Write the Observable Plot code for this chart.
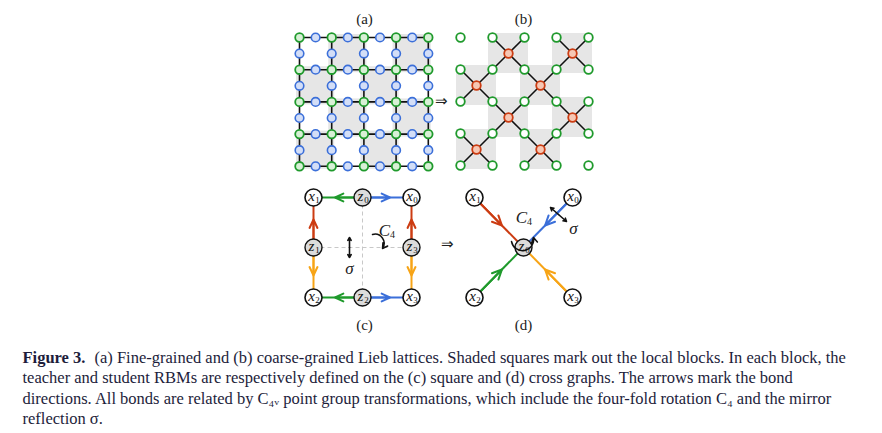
<!DOCTYPE html>
<html><head><meta charset="utf-8">
<script src="https://cdn.jsdelivr.net/npm/d3@7"></script>
<script src="https://cdn.jsdelivr.net/npm/@observablehq/plot@0.6"></script>
<style>body{margin:0;background:#fff}</style>
</head><body><div id="chart"></div>
<script>
// lattice indices 0..8 in both directions
const idx = [0,1,2,3,4,5,6,7,8]
const blocks = [0,1,2,3]
// panel origins and spacing (pixels)
const panelA = {x: 299, y: 37, s: 16.1}
const panelB = {x: 460, y: 37, s: 16}
const panelLabels = [{t:'(a)', x:364, y:19}, {t:'(b)', x:523, y:19}, {t:'(c)', x:364, y:325}, {t:'(d)', x:523, y:325}]
// graph nodes for (c) and (d)
const nodesC = [
  {n:'x', s:'1', x:313, y:197, z:false}, {n:'z', s:'0', x:362, y:197, z:true}, {n:'x', s:'0', x:411, y:197, z:false},
  {n:'z', s:'1', x:313, y:247, z:true}, {n:'z', s:'3', x:411, y:247, z:true},
  {n:'x', s:'2', x:313, y:297, z:false}, {n:'z', s:'2', x:362, y:297, z:true}, {n:'x', s:'3', x:411, y:297, z:false}
]
const nodesD = [
  {n:'x', s:'1', x:474, y:197, z:false}, {n:'x', s:'0', x:572, y:197, z:false},
  {n:'z', s:'0', x:523, y:247, z:true},
  {n:'x', s:'2', x:474, y:297, z:false}, {n:'x', s:'3', x:572, y:297, z:false}
]
const green = '#1f9a2c', blue = '#3b6fd9', red = '#cc3c12', orange = '#f7a416'
// bonds: from -> to, colour (panel key c/d)
const bondsC = [['z0','x1',green],['z0','x0',blue],['z1','x1',red],['z1','x2',orange],
                ['z3','x0',red],['z3','x3',orange],['z2','x2',green],['z2','x3',blue]]
const bondsD = [['x1','z0',red],['x0','z0',blue],['x2','z0',green],['x3','z0',orange]]
const caption = [
  'teacher and student RBMs are respectively defined on the (c) square and (d) cross graphs. The arrows mark the bond',
  'directions. All bonds are related by C₄ᵥ point group transformations, which include the four-fold rotation C₄ and the mirror',
  'reflection σ.'
]
const captionFirst = '(a) Fine-grained and (b) coarse-grained Lieb lattices. Shaded squares mark out the local blocks. In each block, the'

const P = (p, i, j) => ({x: p.x + i*p.s, y: p.y + j*p.s})

const shadeA = [], shadeB = [], redB = []
for (const bi of blocks) for (const bj of blocks) if ((bi+bj)%2 === 1) {
  const a = P(panelA, 2*bi, 2*bj), b = P(panelB, 2*bi, 2*bj)
  shadeA.push({x1:a.x-3, y1:a.y-3, x2:a.x+2*panelA.s+3, y2:a.y+2*panelA.s+3})
  shadeB.push({x1:b.x-4, y1:b.y-4, x2:b.x+2*panelB.s+4, y2:b.y+2*panelB.s+4})
  redB.push({bi, bj, ...P(panelB, 2*bi+1, 2*bj+1)})
}
const linesA = []
for (const k of [0,2,4,6,8]) {
  const a0 = P(panelA, 0, k), a1 = P(panelA, 8, k), b0 = P(panelA, k, 0), b1 = P(panelA, k, 8)
  linesA.push({x1:a0.x, y1:a0.y, x2:a1.x, y2:a1.y}, {x1:b0.x, y1:b0.y, x2:b1.x, y2:b1.y})
}
const greenA = [], blueA = [], greenB = []
for (const i of idx) for (const j of idx) {
  if (i%2===0 && j%2===0) { greenA.push(P(panelA,i,j)); greenB.push(P(panelB,i,j)) }
  else if (i%2===0 || j%2===0) blueA.push(P(panelA,i,j))
}
const linesB = []
for (const r of redB) for (const [di,dj] of [[0,0],[2,0],[0,2],[2,2]]) {
  const c = P(panelB, 2*r.bi+di, 2*r.bj+dj)
  linesB.push({x1:r.x, y1:r.y, x2:c.x, y2:c.y})
}
function bonds(list, nodes) {
  const m = new Map(nodes.map(d => [d.n + d.s, d]))
  return list.map(([f,t,c]) => {
    const a = m.get(f), b = m.get(t)
    return {x1:a.x, y1:a.y, x2:b.x, y2:b.y, mx:(a.x+b.x)/2 + (b.x-a.x)*0.06, my:(a.y+b.y)/2 + (b.y-a.y)*0.06, c}
  })
}
const allBonds = bonds(bondsC, nodesC).concat(bonds(bondsD, nodesD))
const allNodes = nodesC.concat(nodesD)
const dashC = [{x1:362,y1:197,x2:362,y2:297},{x1:313,y1:247,x2:411,y2:247}]
const mathLabels = [{t:'C', s:'4', x:384, y:230}, {t:'C', s:'4', x:521, y:217}]

const ink = '#1d1d3b'
const chart = Plot.plot({
  width: 882, height: 433, margin: 0,
  x: {domain:[0,882], axis:null}, y: {domain:[433,0], axis:null},
  style: {fontFamily: '"Liberation Serif", serif'},
  marks: [
    Plot.rect(shadeA, {x1:'x1', x2:'x2', y1:'y1', y2:'y2', fill:'#e6e6e6'}),
    Plot.rect(shadeB, {x1:'x1', x2:'x2', y1:'y1', y2:'y2', fill:'#e6e6e6'}),
    Plot.link(linesA, {x1:'x1', y1:'y1', x2:'x2', y2:'y2', stroke:'#111', strokeWidth:1.6}),
    Plot.link(linesB, {x1:'x1', y1:'y1', x2:'x2', y2:'y2', stroke:'#111', strokeWidth:1.6}),
    Plot.dot(blueA, {x:'x', y:'y', r:4.3, fill:'#d3def7', stroke:blue, strokeWidth:1.6}),
    Plot.dot(greenA, {x:'x', y:'y', r:4.3, fill:'#d8f0d6', stroke:green, strokeWidth:1.8}),
    Plot.dot(greenB, {x:'x', y:'y', r:4.3, fill:'#fff', stroke:green, strokeWidth:1.8}),
    Plot.dot(redB, {x:'x', y:'y', r:4.3, fill:'#f6c7b4', stroke:red, strokeWidth:1.8}),
    Plot.text([{t:'⇒', x:441, y:101}, {t:'⇒', x:447, y:244}], {x:'x', y:'y', text:'t', fontSize:15, fill:'#222'}),
    Plot.text(panelLabels, {x:'x', y:'y', text:'t', fontSize:15, fill:'#222'}),
    Plot.link(dashC, {x1:'x1', y1:'y1', x2:'x2', y2:'y2', stroke:'#c8c8c8', strokeWidth:1, strokeDasharray:'4,3'}),
    Plot.link(allBonds, {x1:'x1', y1:'y1', x2:'x2', y2:'y2', stroke:'c', strokeWidth:2}),
    Plot.arrow(allBonds, {x1:'x1', y1:'y1', x2:'mx', y2:'my', stroke:'c', strokeWidth:2, headLength:8, headAngle:50}),
    Plot.dot(allNodes, {x:'x', y:'y', r:8.5, fill:d => d.z ? '#dcdcdc' : '#fff', stroke:'#111', strokeWidth:d => d.z ? 1.4 : 1.6, strokeDasharray:d => d.z ? '1.5,1.5' : null}),
    Plot.text(allNodes, {x:'x', y:'y', text:'n', fontSize:15, fontStyle:'italic', fill:'#111', dx:-2, dy:-1}),
    Plot.text(allNodes, {x:'x', y:'y', text:'s', fontSize:9, fill:'#111', dx:4, dy:3}),
    // C4 rotation arcs
    Plot.arrow([{x1:372,y1:234,x2:382,y2:248}], {x1:'x1', y1:'y1', x2:'x2', y2:'y2', bend:70, stroke:'#111', strokeWidth:1.5, headLength:6}),
    Plot.arrow([{x1:511,y1:241,x2:533,y2:237}], {x1:'x1', y1:'y1', x2:'x2', y2:'y2', bend:-90, stroke:'#111', strokeWidth:1.5, headLength:6}),
    Plot.text(mathLabels, {x:'x', y:'y', text:'t', fontSize:17, fontStyle:'italic', fill:'#222'}),
    Plot.text(mathLabels, {x:'x', y:'y', text:'s', fontSize:10, fill:'#222', dx:8, dy:4}),
    // sigma double arrows
    Plot.arrow([{x1:349,y1:247,x2:349,y2:237},{x1:349,y1:247,x2:349,y2:257},{x1:558,y1:214,x2:550,y2:207},{x1:558,y1:214,x2:566,y2:221}], {x1:'x1', y1:'y1', x2:'x2', y2:'y2', stroke:'#111', strokeWidth:1.6, headLength:5}),
    Plot.text([{x:349, y:268}, {x:573, y:228}], {x:'x', y:'y', text:() => 'σ', fontSize:17, fontStyle:'italic', fill:'#222'}),
    // caption
    Plot.text(['Figure 3.'], {x:22, y:357, text:d => d, textAnchor:'start', fontSize:16.5, fontWeight:'bold', fill:ink}),
    Plot.text([captionFirst], {x:94, y:357, text:d => d, textAnchor:'start', fontSize:16.5, fill:ink}),
    Plot.text(caption, {x:22, y:(d, i) => 377.5 + i*20.5, text:d => d, textAnchor:'start', fontSize:16.5, fill:ink})
  ]
})
d3.select('#chart').append(() => chart)
</script></body></html>
